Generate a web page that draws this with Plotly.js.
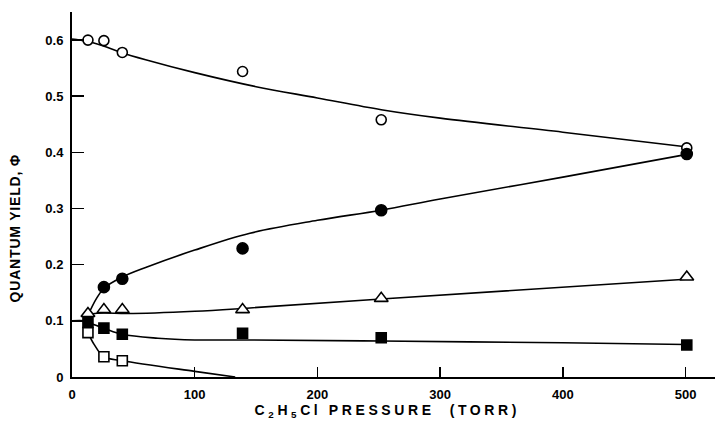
<!DOCTYPE html>
<html>
<head>
<meta charset="utf-8">
<script src="https://cdn.plot.ly/plotly-3.0.1.min.js"></script>
<style>
html,body{margin:0;padding:0;background:#fff;}
#chart{width:715px;height:428px;}
g.annotation[data-index="0"] text{letter-spacing:0.8px;}
g.annotation[data-index="1"] text{letter-spacing:3.6px;}
</style>
</head>
<body>
<div id="chart"></div>
<script>
// ---- data points ----
var openCircleX = [13, 26, 41, 139, 252, 501];
var openCircleY = [0.600, 0.599, 0.578, 0.544, 0.458, 0.408];
var filledCircleX = [26, 41, 139, 252, 501];
var filledCircleY = [0.160, 0.175, 0.229, 0.297, 0.397];
var openTriX = [13, 26, 41, 139, 252, 501];
var openTriY = [0.113, 0.120, 0.120, 0.120, 0.140, 0.178];
var filledSqX = [13, 26, 41, 139, 252, 501];
var filledSqY = [0.097, 0.087, 0.076, 0.078, 0.070, 0.057];
var openSqX = [13, 26, 41];
var openSqY = [0.079, 0.036, 0.029];

// ---- fitted curves ----
var curveAX = [0, 12, 25, 40, 60, 100, 150, 200, 252, 300, 400, 500];
var curveAY = [0.602, 0.598, 0.590, 0.578, 0.565, 0.542, 0.517, 0.497, 0.476, 0.461, 0.436, 0.410];
var curveBX = [13, 20, 26, 41, 60, 100, 145, 200, 252, 300, 400, 500];
var curveBY = [0.110, 0.140, 0.158, 0.178, 0.195, 0.226, 0.256, 0.279, 0.297, 0.317, 0.356, 0.396];
var curveCX = [13, 26, 45, 100, 145, 252, 500];
var curveCY = [0.112, 0.114, 0.113, 0.117, 0.123, 0.139, 0.174];
var curveDX = [0, 10, 13, 26, 41, 70, 100, 145, 252, 400, 500];
var curveDY = [0.100, 0.100, 0.097, 0.087, 0.076, 0.069, 0.066, 0.066, 0.064, 0.061, 0.058];
var curveEX = [13, 18, 26, 41, 100, 133];
var curveEY = [0.079, 0.058, 0.036, 0.029, 0.010, 0.000];

var xTickVals = [0, 100, 200, 300, 400, 500];
var xTickText = ['0', '100', '200', '300', '400', '500'];
var yTickVals = [0, 0.1, 0.2, 0.3, 0.4, 0.5, 0.6];
var yTickText = ['0', '0.1', '0.2', '0.3', '0.4', '0.5', '0.6'];

var lineStyle = {color: '#000', width: 1.6, shape: 'spline', smoothing: 1};
function curve(x, y) {
  return {x: x, y: y, mode: 'lines', line: lineStyle, hoverinfo: 'skip', showlegend: false, cliponaxis: true};
}
function pts(x, y, sym, size, fill) {
  return {x: x, y: y, mode: 'markers', showlegend: false, cliponaxis: false,
    marker: {symbol: sym, size: size, color: fill, line: {color: '#000', width: 1.6}}};
}

var traces = [
  curve(curveAX, curveAY),
  curve(curveBX, curveBY),
  curve(curveCX, curveCY),
  curve(curveDX, curveDY),
  curve(curveEX, curveEY),
  pts(openCircleX, openCircleY, 'circle', 10, '#fff'),
  pts(filledCircleX, filledCircleY, 'circle', 11, '#000'),
  pts(openTriX, openTriY, 'triangle-up', 12, '#fff'),
  pts(filledSqX, filledSqY, 'square', 10, '#000'),
  pts(openSqX, openSqY, 'square', 10, '#fff')
];

var font = {family: 'Liberation Sans, Arial, sans-serif', size: 13, color: '#000', weight: 'bold'};

var layout = {
  width: 715, height: 428,
  margin: {l: 72, r: 0, t: 12, b: 51, pad: 0},
  paper_bgcolor: '#fff', plot_bgcolor: '#fff',
  font: font,
  xaxis: {
    range: [0, 524], showgrid: false, zeroline: false,
    showline: true, linecolor: '#000', linewidth: 2,
    ticks: 'inside', ticklen: 10, tickwidth: 1.5, tickcolor: '#000',
    tickvals: xTickVals, ticktext: xTickText, ticklabelstandoff: 4,
    tickfont: font
  },
  yaxis: {
    range: [0, 0.65], showgrid: false, zeroline: false,
    showline: true, linecolor: '#000', linewidth: 2,
    ticks: 'inside', ticklen: 12, tickwidth: 1.5, tickcolor: '#000',
    tickvals: yTickVals, ticktext: yTickText, ticklabelstandoff: 4,
    tickfont: font
  },
  annotations: [
    {text: 'QUANTUM YIELD, Φ', xref: 'paper', yref: 'paper',
     x: (15 - 72) / 643, y: (377 - 228) / 365, xanchor: 'center', yanchor: 'middle',
     textangle: -90, showarrow: false, font: {family: font.family, size: 14, color: '#000', weight: 'bold'}},
    {text: 'C<sub>2</sub>H<sub>5</sub>Cl PRESSURE  (TORR)', xref: 'paper', yref: 'paper',
     x: (387 - 72) / 643, y: (377 - 411) / 365, xanchor: 'center', yanchor: 'middle',
     showarrow: false, font: {family: font.family, size: 14, color: '#000', weight: 'bold'}}
  ],
  showlegend: false
};

Plotly.newPlot('chart', traces, layout, {displayModeBar: false, staticPlot: true});
</script>
</body>
</html>
